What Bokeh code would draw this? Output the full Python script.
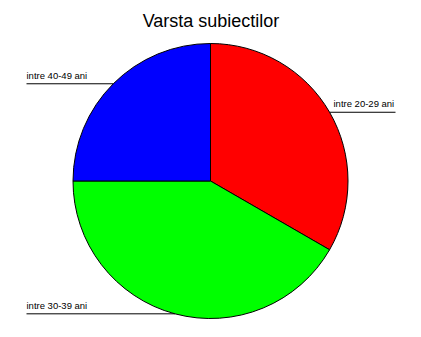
import math
from bokeh.plotting import figure
from bokeh.models import Range1d, ColumnDataSource
from bokeh.core.properties import value
from bokeh.embed import file_html
from bokeh.resources import INLINE

# Age groups of the subjects (counts)
categories = ["intre 20-29 ani", "intre 30-39 ani", "intre 40-49 ani"]
counts = [4, 5, 3]
colors = ["#ff0000", "#00ff00", "#0000ff"]
title = "Varsta subiectilor"

W, H = 421, 337
cx, cy, r = 210, H - 180.5, 137.5

p = figure(width=W, height=H, output_backend="svg", toolbar_location=None,
           x_range=Range1d(0, W), y_range=Range1d(0, H), min_border=0)
p.axis.visible = False
p.grid.visible = False
p.outline_line_color = None
p.background_fill_color = "white"

# slices go clockwise starting at 12 o'clock
total = sum(counts)
starts, ends, mids = [], [], []
a = math.pi / 2
for c in counts:
    sweep = 2 * math.pi * c / total
    end = a
    start = a - sweep
    starts.append(start)
    ends.append(end)
    mids.append((start + end) / 2)
    a = start

src = ColumnDataSource(dict(start=starts, end=ends, color=colors))
p.wedge(x=cx, y=cy, radius=r, start_angle="start", end_angle="end",
        fill_color="color", line_color="black", line_width=1, source=src)

# leader lines and labels from each slice's midpoint on the rim
for name, m in zip(categories, mids):
    ex = cx + r * math.cos(m)
    ey = cy + r * math.sin(m)
    if math.cos(m) >= 0:
        x0, x1 = ex, 395
        tx = 333
    else:
        x0, x1 = 26, ex
        tx = x0
    p.line([x0, x1], [ey, ey], line_color="black", line_width=1)
    p.text(x=[tx], y=[ey + 3], text=[name], text_font=value("Liberation Sans"),
           text_font_size="9.5px", text_baseline="bottom", text_align="left",
           text_color="black")

p.text(x=[W / 2], y=[H - 20], text=[title], text_font=value("Liberation Sans"),
       text_font_size="18px", text_baseline="middle", text_align="center",
       text_color="black")

open("out.html", "w").write(file_html(p, INLINE))
